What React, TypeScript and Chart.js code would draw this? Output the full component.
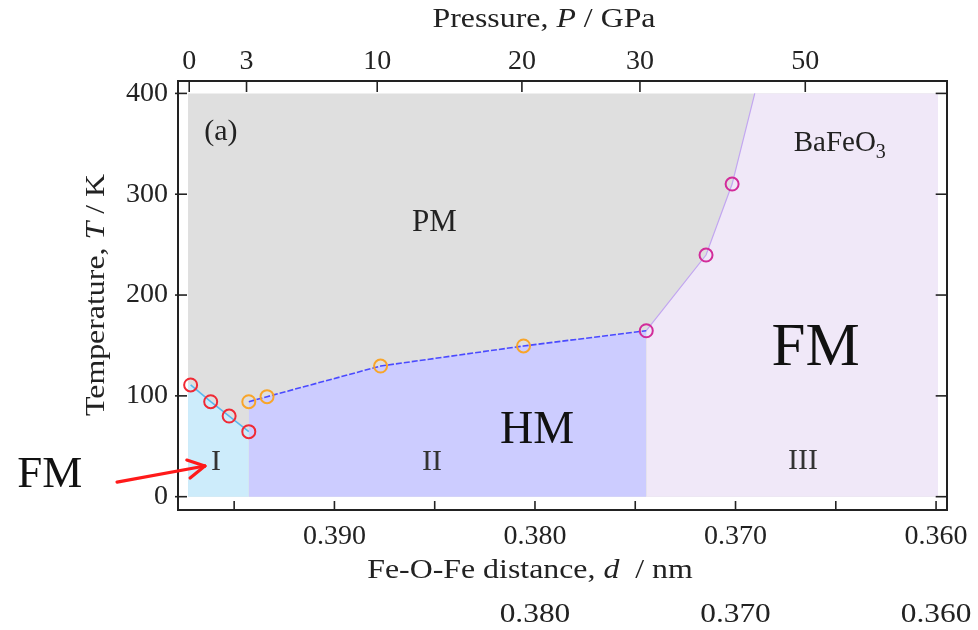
import React, { useEffect, useRef } from 'react';
import { Chart, registerables } from 'chart.js';

Chart.register(...registerables);

// ---- measured points (d in nm, T in K) ----
const redD = [0.39717, 0.39617, 0.39525, 0.39427];
const redT = [110.8, 94.2, 80.0, 64.5];
const orangeD = [0.39427, 0.39336, 0.3877, 0.38057];
const orangeT = [94.2, 99.2, 129.6, 149.5];
const magentaD = [0.37445, 0.37147, 0.37017];
const magentaT = [164.6, 239.7, 310.1];

// ---- phase region outlines ----
const pmTopD = [0.3973, 0.3599];
const pmTopT = [400, 400];
const region1D = [0.3973, 0.39427];
const region1T = [112.9, 64.5];
const region2D = [0.39427, 0.39336, 0.3877, 0.38057, 0.37445];
const region2T = [94.2, 99.2, 129.6, 149.5, 164.6];
const region3D = [0.37445, 0.37147, 0.37017, 0.36904, 0.3599];
const region3T = [164.6, 239.7, 310.1, 400, 400];
const fmBoundaryD = [0.37445, 0.37147, 0.37017, 0.36904];
const fmBoundaryT = [164.6, 239.7, 310.1, 400];

// ---- axes ----
const dMin = 0.35947;
const dMax = 0.3978;
const tMin = -13.2;
const tMax = 412.3;
const dTicks = [0.395, 0.39, 0.385, 0.38, 0.375, 0.37, 0.365, 0.36];
const dLabelled = ['0.390', '0.380', '0.370', '0.360'];
const dLowerRow = [0.38, 0.37, 0.36];
const tTicks = [0, 100, 200, 300, 400];
const pressureLabels = ['0', '3', '10', '20', '30', '50'];
const pressureD = [0.39724, 0.394383, 0.387866, 0.380652, 0.374766, 0.366522];

// ---- annotations ----
const noteText = ['(a)', 'PM', 'HM', 'FM', 'I', 'II', 'III', 'FM'];
const noteD = [0.39566, 0.38501, 0.37989, 0.36601, 0.39591, 0.38514, 0.36663, 0.40419];
const noteT = [361.7, 271.5, 65.7, 146.5, 34.5, 34.5, 35.5, 21.0];
const noteSize = [30, 31, 46, 61, 30, 30, 30, 45];
const noteColor = ['#222', '#222', '#111', '#111', '#333', '#333', '#333', '#111'];
const formulaD = 0.3671;
const formulaT = 342.9;
const arrowD = [0.40084, 0.39646];
const arrowT = [14.5, 30.4];

const pts = (xs: number[], ys: number[]) => xs.map((x, i) => ({ x, y: ys[i] }));

const FONT = '"Liberation Serif", "Times New Roman", serif';

function drawRich(
  ctx: CanvasRenderingContext2D,
  segs: [string, boolean][],
  cx: number,
  cy: number,
  size: number,
  stretch: number,
  rot: number
) {
  ctx.save();
  ctx.translate(cx, cy);
  ctx.rotate(rot);
  ctx.scale(stretch, 1);
  ctx.textBaseline = 'middle';
  ctx.textAlign = 'left';
  ctx.fillStyle = '#222';
  const widths = segs.map(([t, it]) => {
    ctx.font = `${it ? 'italic ' : ''}${size}px ${FONT}`;
    return ctx.measureText(t).width;
  });
  const total = widths.reduce((a, b) => a + b, 0);
  let xx = -total / 2;
  segs.forEach(([t, it], i) => {
    ctx.font = `${it ? 'italic ' : ''}${size}px ${FONT}`;
    ctx.fillText(t, xx, 0);
    xx += widths[i];
  });
  ctx.restore();
}

const overlay = {
  id: 'overlay',
  afterDraw(chart: any) {
    const { ctx, scales, chartArea: a } = chart;
    const x = scales.x;
    const x2 = scales.x2;
    const y = scales.y;
    ctx.save();
    ctx.strokeStyle = '#222';
    ctx.lineWidth = 1.6;
    const seg = (x1: number, y1: number, xb: number, yb: number) => {
      ctx.beginPath();
      ctx.moveTo(x1, y1);
      ctx.lineTo(xb, yb);
      ctx.stroke();
    };
    dTicks.forEach((v) => {
      const px = x.getPixelForValue(v);
      seg(px, a.bottom, px, a.bottom - 9);
    });
    pressureD.forEach((v) => {
      const px = x2.getPixelForValue(v);
      seg(px, a.top, px, a.top + 11);
    });
    tTicks.forEach((v) => {
      const py = y.getPixelForValue(v);
      seg(a.left - 3, py, a.left + 9, py);
      seg(a.right, py, a.right - 11, py);
    });

    // lower row of distance labels
    ctx.fillStyle = '#222';
    ctx.font = `28px ${FONT}`;
    ctx.textAlign = 'center';
    ctx.textBaseline = 'middle';
    dLowerRow.forEach((v) => {
      ctx.save();
      ctx.translate(x.getPixelForValue(v), 615);
      ctx.scale(1.12, 1);
      ctx.fillText(v.toFixed(3), 0, 0);
      ctx.restore();
    });

    // axis titles
    drawRich(ctx, [['Pressure, ', false], ['P', true], [' / GPa', false]], 544, 20, 27, 1.18, 0);
    drawRich(ctx, [['Fe-O-Fe distance, ', false], ['d', true], ['  / nm', false]], 530, 571, 27, 1.18, 0);
    drawRich(ctx, [['Temperature, ', false], ['T', true], [' / K', false]], 97, 295, 27, 1.18, -Math.PI / 2);

    // annotations
    noteText.forEach((t, i) => {
      ctx.font = `${noteSize[i]}px ${FONT}`;
      ctx.fillStyle = noteColor[i];
      ctx.textAlign = 'center';
      ctx.textBaseline = 'middle';
      ctx.fillText(t, x.getPixelForValue(noteD[i]), y.getPixelForValue(noteT[i]));
    });

    // BaFeO3 with subscript
    const fx = x.getPixelForValue(formulaD);
    const fy = y.getPixelForValue(formulaT);
    ctx.fillStyle = '#222';
    ctx.textAlign = 'left';
    ctx.textBaseline = 'alphabetic';
    ctx.font = `29px ${FONT}`;
    ctx.fillText('BaFeO', fx, fy);
    const w = ctx.measureText('BaFeO').width;
    ctx.font = `20px ${FONT}`;
    ctx.fillText('3', fx + w, fy + 7);

    // red arrow
    const ax1 = x.getPixelForValue(arrowD[0]);
    const ay1 = y.getPixelForValue(arrowT[0]);
    const ax2 = x.getPixelForValue(arrowD[1]);
    const ay2 = y.getPixelForValue(arrowT[1]);
    ctx.strokeStyle = '#ff1a1a';
    ctx.lineWidth = 3.2;
    ctx.lineCap = 'round';
    seg(ax1, ay1, ax2, ay2);
    const ang = Math.atan2(ay2 - ay1, ax2 - ax1);
    const hl = 19;
    [0.5, -0.5].forEach((da) => {
      seg(ax2, ay2, ax2 - hl * Math.cos(ang + da), ay2 - hl * Math.sin(ang + da));
    });
    ctx.restore();
  },
};

const tickFont = { family: FONT, size: 28 };

export default function App() {
  const ref = useRef<HTMLCanvasElement>(null);
  useEffect(() => {
    if (!ref.current) return;
    const fillSet = (data: any[], color: string, order: number) => ({
      type: 'line' as const,
      data,
      borderWidth: 0,
      pointRadius: 0,
      backgroundColor: color,
      fill: { value: 0 },
      tension: 0,
      order,
    });
    const lineSet = (data: any[], color: string, width: number, dash: number[], order: number) => ({
      type: 'line' as const,
      data,
      borderColor: color,
      borderWidth: width,
      borderDash: dash,
      pointRadius: 0,
      fill: false,
      tension: 0,
      order,
    });
    const markerSet = (data: any[], color: string, order: number) => ({
      type: 'line' as const,
      data,
      showLine: false,
      pointStyle: 'circle',
      pointRadius: 6.5,
      pointBorderWidth: 2,
      pointBorderColor: color,
      pointBackgroundColor: 'rgba(0,0,0,0)',
      borderColor: color,
      fill: false,
      order,
    });
    const chart = new Chart(ref.current, {
      type: 'line',
      data: {
        datasets: [
          fillSet(pts(pmTopD, pmTopT), '#dfdfdf', 10),
          fillSet(pts(region1D, region1T), '#cdecfb', 9),
          fillSet(pts(region2D, region2T), '#ccccff', 9),
          fillSet(pts(region3D, region3T), '#f0e8f8', 9),
          lineSet(pts(redD, redT), '#5ab8ee', 1.6, [], 5),
          lineSet(pts(orangeD.concat([magentaD[0]]), orangeT.concat([magentaT[0]])), '#4a4aff', 1.6, [6, 2], 5),
          lineSet(pts(fmBoundaryD, fmBoundaryT), '#c2a6f0', 1.2, [], 5),
          markerSet(pts(redD, redT), '#f02a35', 1),
          markerSet(pts(orangeD, orangeT), '#f8a52a', 1),
          markerSet(pts(magentaD, magentaT), '#d22c9a', 1),
        ] as any,
      },
      options: {
        responsive: false,
        animation: false,
        layout: { padding: 0 },
        plugins: { legend: { display: false }, tooltip: { enabled: false } },
        scales: {
          x: {
            type: 'linear',
            position: 'bottom',
            reverse: true,
            min: dMin,
            max: dMax,
            afterBuildTicks: (s: any) => {
              s.ticks = dTicks.map((v) => ({ value: v }));
            },
            afterFit: (s: any) => {
              s.height = 120;
            },
            grid: { display: false, drawTicks: false },
            border: { display: true, color: '#222', width: 2 },
            ticks: {
              autoSkip: false,
              maxRotation: 0,
              padding: 10,
              color: '#222',
              font: tickFont,
              callback: (v: any) => {
                const s = Number(v).toFixed(3);
                return dLabelled.includes(s) ? s : '';
              },
            },
          },
          x2: {
            type: 'linear',
            position: 'top',
            reverse: true,
            min: dMin,
            max: dMax,
            afterBuildTicks: (s: any) => {
              s.ticks = pressureD.map((v) => ({ value: v }));
            },
            afterFit: (s: any) => {
              s.height = 81;
            },
            grid: { display: false, drawTicks: false },
            border: { display: true, color: '#222', width: 2 },
            ticks: {
              autoSkip: false,
              maxRotation: 0,
              padding: 3,
              color: '#222',
              font: tickFont,
              callback: (_v: any, i: number) => pressureLabels[i],
            },
          },
          y: {
            type: 'linear',
            position: 'left',
            min: tMin,
            max: tMax,
            afterBuildTicks: (s: any) => {
              s.ticks = tTicks.map((v) => ({ value: v }));
            },
            afterFit: (s: any) => {
              s.width = 178;
            },
            grid: { display: false, drawTicks: false },
            border: { display: true, color: '#222', width: 2 },
            ticks: {
              autoSkip: false,
              padding: 10,
              color: '#222',
              font: tickFont,
              callback: (v: any) => String(v),
            },
          },
          y2: {
            type: 'linear',
            position: 'right',
            min: tMin,
            max: tMax,
            afterFit: (s: any) => {
              s.width = 30;
            },
            grid: { display: false, drawTicks: false },
            border: { display: true, color: '#222', width: 2 },
            ticks: { display: false },
          },
        },
      } as any,
      plugins: [overlay],
    });
    return () => chart.destroy();
  }, []);
  return (
    <div style={{ position: 'absolute', left: 0, top: 0, width: 978, height: 630, background: '#fff' }}>
      <canvas ref={ref} width={978} height={630} style={{ display: 'block' }} />
    </div>
  );
}
